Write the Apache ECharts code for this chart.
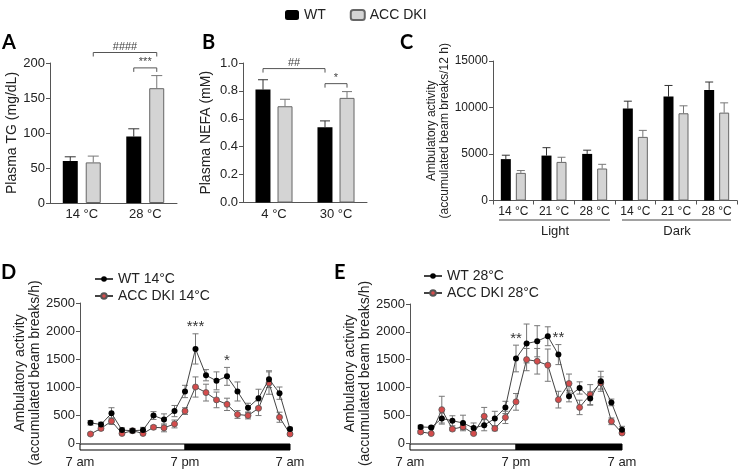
<!DOCTYPE html>
<html>
<head>
<meta charset="utf-8">
<script src="https://cdn.jsdelivr.net/npm/echarts@6/dist/echarts.min.js"></script>
<style>
html, body { margin: 0; background: #fff; }
#chart { width: 738px; height: 469px; }
</style>
</head>
<body>
<div id="chart"></div>
<script>
// panel A - plasma TG
const tgCats = ['14 °C', '28 °C'];
const tgWT = [60, 95];
const tgWTErr = [6, 11];
const tgACC = [58, 164];
const tgACCErr = [9, 18];

// panel B - plasma NEFA
const nefaCats = ['4 °C', '30 °C'];
const nefaWT = [0.81, 0.54];
const nefaWTErr = [0.07, 0.045];
const nefaACC = [0.69, 0.75];
const nefaACCErr = [0.05, 0.045];

// panel C - activity per 12 h
const actCats = ['14 °C', '21 °C', '28 °C', '14 °C', '21 °C', '28 °C'];
const actWT = [4450, 4830, 5010, 9880, 11170, 11890];
const actWTErr = [420, 850, 400, 800, 1200, 850];
const actACC = [2970, 4150, 3440, 6840, 9380, 9450];
const actACCErr = [250, 500, 450, 700, 800, 1050];

// panels D / E - hourly activity
const timeSlots = ['7 am', '', '', '', '', '', '', '', '', '', '7 pm', '', '', '', '', '', '', '', '', '', '7 am'];
const wt14 = [360, 330, 530, 230, 220, 230, 490, 420, 570, 920, 1680, 1210, 1110, 1190, 920, 630, 800, 1140, 890, 250];
const wt14Err = [40, 40, 100, 40, 40, 50, 70, 100, 100, 110, 270, 100, 160, 160, 170, 80, 160, 150, 110, 30];
const acc14 = [160, 260, 390, 170, 220, 170, 280, 270, 340, 570, 1000, 900, 770, 690, 510, 490, 620, 1070, 460, 160];
const acc14Err = [20, 30, 60, 20, 30, 20, 30, 70, 70, 60, 180, 150, 140, 110, 70, 60, 130, 200, 90, 20];
const wt28 = [290, 280, 440, 400, 360, 270, 320, 440, 640, 1520, 1790, 1830, 1920, 1590, 840, 990, 800, 1110, 730, 240];
const wt28Err = [30, 20, 100, 90, 140, 90, 100, 130, 110, 240, 350, 280, 170, 180, 100, 110, 120, 180, 60, 60];
const acc28 = [200, 170, 600, 250, 290, 170, 480, 260, 460, 740, 1500, 1470, 1400, 780, 1070, 640, 870, 1080, 390, 180];
const acc28Err = [30, 20, 240, 30, 50, 20, 160, 40, 110, 150, 200, 230, 290, 150, 170, 130, 180, 110, 60, 20];
const starsDSlots = [11, 14];
const starsDText = ['***', '*'];
const starsESlots = [10, 14];
const starsEText = ['**', '**'];

const FONT = 'Liberation Sans';
const txt = '#222';
const axisCol = '#555';

const chart = echarts.init(document.getElementById('chart'));

function barErr(offset, cap, color) {
  return function (params, api) {
    const base = api.coord([api.value(0), api.value(1)]);
    const top = api.coord([api.value(0), api.value(1) + api.value(2)]);
    const x = base[0] + offset;
    return {
      type: 'group',
      children: [
        { type: 'line', shape: { x1: x, y1: base[1], x2: x, y2: top[1] }, style: { stroke: color, lineWidth: 1 } },
        { type: 'line', shape: { x1: x - cap, y1: top[1], x2: x + cap, y2: top[1] }, style: { stroke: color, lineWidth: 1 } }
      ]
    };
  };
}

function lineErr(color) {
  return function (params, api) {
    const v = api.value(1), e = api.value(2);
    const top = api.coord([api.value(0), v + e]);
    const bot = api.coord([api.value(0), v - e]);
    const x = top[0];
    const st = { stroke: color, lineWidth: 1 };
    return {
      type: 'group',
      children: [
        { type: 'line', shape: { x1: x, y1: top[1], x2: x, y2: bot[1] }, style: st },
        { type: 'line', shape: { x1: x - 3, y1: top[1], x2: x + 3, y2: top[1] }, style: st },
        { type: 'line', shape: { x1: x - 3, y1: bot[1], x2: x + 3, y2: bot[1] }, style: st }
      ]
    };
  };
}

function bracket(off, texts) {
  return function (params, api) {
    const y = api.coord([0, api.value(4)])[1];
    const xa = api.coord([api.value(0), 0])[0] + api.value(1) * off;
    const xb = api.coord([api.value(2), 0])[0] + api.value(3) * off;
    return {
      type: 'group',
      children: [
        { type: 'polyline', shape: { points: [[xa, y + 4], [xa, y], [xb, y], [xb, y + 4]] }, style: { stroke: '#555', fill: null, lineWidth: 1 } },
        { type: 'text', x: (xa + xb) / 2, y: y, style: { text: texts[params.dataIndex], fill: '#444', fontSize: 11, fontFamily: FONT, align: 'center', verticalAlign: 'bottom' } }
      ]
    };
  };
}

function stars(texts) {
  return function (params, api) {
    const p = api.coord([api.value(0), api.value(1)]);
    return { type: 'text', x: p[0], y: p[1] + 1, style: { text: texts[params.dataIndex], fill: '#333', fontSize: 15, fontFamily: FONT, align: 'center', verticalAlign: 'bottom' } };
  };
}

function dayBar(params, api) {
  const a = api.coord([api.value(0), 0]);
  const b = api.coord([api.value(1), 0]);
  return {
    type: 'rect',
    shape: { x: a[0], y: a[1] + 1, width: b[0] - a[0], height: 6 },
    style: { fill: api.value(2) ? '#000' : '#fff', stroke: '#000', lineWidth: 1 }
  };
}

const lbl = { color: txt, fontSize: 13, fontFamily: FONT, margin: 5 };
const lblC = { color: txt, fontSize: 12, fontFamily: FONT, margin: 5 };

function catAxis(grid, data, extra) {
  return Object.assign({
    type: 'category', gridIndex: grid, data: data,
    axisLine: { show: true, lineStyle: { color: axisCol } },
    axisTick: { show: false },
    axisLabel: Object.assign({}, lbl, { interval: 0 })
  }, extra || {});
}

function valAxis(grid, max, interval, name, gap, fmt, size, nameSize) {
  const fs = size || 13;
  const ns = nameSize || 14;
  return {
    type: 'value', gridIndex: grid, min: 0, max: max, interval: interval,
    name: name, nameLocation: 'middle', nameGap: gap, nameRotate: 90,
    nameTextStyle: { color: txt, fontSize: ns, fontFamily: FONT, lineHeight: ns + 1 },
    axisLine: { show: true, lineStyle: { color: axisCol } },
    axisTick: { show: true, length: 4, lineStyle: { color: axisCol } },
    splitLine: { show: false },
    axisLabel: Object.assign({}, lbl, { fontSize: fs, formatter: fmt || ((v) => String(v)) })
  };
}

const idx = (arr) => arr.map((v, i) => [i + 1, v]);
const withErr = (vals, errs) => vals.map((v, i) => [i + 1, v, errs[i]]);
const barWithErr = (vals, errs) => vals.map((v, i) => [i, v, errs[i]]);

const wtBar = { color: '#000' };
const accBar = { color: '#d4d4d4', borderColor: '#666', borderWidth: 1 };
const timeAxisExtra = {
  boundaryGap: false, axisLine: { show: false },
  axisLabel: Object.assign({}, lbl, { margin: 13, interval: 0, formatter: (v, i) => timeSlots[i] })
};

const option = {
  animation: false,
  backgroundColor: '#fff',
  textStyle: { fontFamily: FONT },
  legend: [
    {
      data: ['WT', 'ACC DKI'], left: 280, top: 3, itemWidth: 14, itemHeight: 10, itemGap: 24,
      textStyle: { color: txt, fontSize: 14, fontFamily: FONT }
    },
    {
      data: ['WT 14°C', 'ACC DKI 14°C'], orient: 'vertical', left: 89, top: 267, itemWidth: 18, itemHeight: 7, itemGap: 3,
      textStyle: { color: txt, fontSize: 14, fontFamily: FONT }
    },
    {
      data: ['WT 28°C', 'ACC DKI 28°C'], orient: 'vertical', left: 418, top: 264, itemWidth: 18, itemHeight: 7, itemGap: 3,
      textStyle: { color: txt, fontSize: 14, fontFamily: FONT }
    }
  ],
  grid: [
    { left: 50, top: 63, width: 127, height: 140 },
    { left: 243, top: 63, width: 124, height: 139.5 },
    { left: 493, top: 61, width: 244, height: 139.5 },
    { left: 80, top: 303, width: 210, height: 140 },
    { left: 410, top: 304, width: 212, height: 139 }
  ],
  xAxis: [
    catAxis(0, tgCats),
    catAxis(1, nefaCats),
    catAxis(2, actCats.map((c, i) => String(i)), {
      axisTick: { show: true, length: 4, lineStyle: { color: axisCol } },
      axisLabel: Object.assign({}, lblC, { interval: 0, formatter: (v, i) => actCats[i] })
    }),
    catAxis(3, timeSlots.map((c, i) => String(i)), timeAxisExtra),
    catAxis(4, timeSlots.map((c, i) => String(i)), timeAxisExtra)
  ],
  yAxis: [
    valAxis(0, 200, 50, 'Plasma TG (mg/dL)', 30),
    valAxis(1, 1.0, 0.2, 'Plasma NEFA (mM)', 29, (v) => v.toFixed(1)),
    valAxis(2, 15000, 5000, 'Ambulatory activity\n(accumulated beam breaks/12 h)', 27, null, 12, 12),
    valAxis(3, 2500, 500, 'Ambulatory activity\n(accumulated beam breaks/h)', 34),
    valAxis(4, 2500, 500, 'Ambulatory activity\n(accumulated beam breaks/h)', 30)
  ],
  graphic: [
    { type: 'text', left: 2, top: 33, style: { text: 'A', fontSize: 20, fontWeight: 'bold', fontFamily: 'Lato', fill: '#000' } },
    { type: 'text', left: 202, top: 33, style: { text: 'B', fontSize: 20, fontWeight: 'bold', fontFamily: 'Lato', fill: '#000' } },
    { type: 'text', left: 400, top: 33, style: { text: 'C', fontSize: 20, fontWeight: 'bold', fontFamily: 'Lato', fill: '#000' } },
    { type: 'text', left: 1, top: 263, style: { text: 'D', fontSize: 20, fontWeight: 'bold', fontFamily: 'Lato', fill: '#000' } },
    { type: 'text', left: 334, top: 263, style: { text: 'E', fontSize: 20, fontWeight: 'bold', fontFamily: 'Lato', fill: '#000' } },
    { type: 'line', shape: { x1: 499, y1: 220, x2: 610, y2: 220 }, style: { stroke: '#444', lineWidth: 1 } },
    { type: 'line', shape: { x1: 622, y1: 220, x2: 731, y2: 220 }, style: { stroke: '#444', lineWidth: 1 } },
    { type: 'text', x: 555, y: 231, style: { text: 'Light', fontSize: 13, fontFamily: FONT, fill: txt, align: 'center', verticalAlign: 'middle' } },
    { type: 'text', x: 677, y: 231, style: { text: 'Dark', fontSize: 13, fontFamily: FONT, fill: txt, align: 'center', verticalAlign: 'middle' } }
  ],
  series: [
    // A
    { name: 'WT', type: 'bar', xAxisIndex: 0, yAxisIndex: 0, data: tgWT, barWidth: 15, barGap: '53%', itemStyle: wtBar },
    { name: 'ACC DKI', type: 'bar', xAxisIndex: 0, yAxisIndex: 0, data: tgACC, barWidth: 15, barGap: '53%', itemStyle: accBar },
    { type: 'custom', xAxisIndex: 0, yAxisIndex: 0, data: barWithErr(tgWT, tgWTErr), renderItem: barErr(-11.5, 5.5, '#333') },
    { type: 'custom', xAxisIndex: 0, yAxisIndex: 0, data: barWithErr(tgACC, tgACCErr), renderItem: barErr(11.5, 5.5, '#777') },
    { type: 'custom', xAxisIndex: 0, yAxisIndex: 0, data: [[0, 1, 1, 1, 215], [1, -1, 1, 1, 193]], encode: { x: 0, y: 4 }, renderItem: bracket(11.5, ['####', '***']) },
    // B
    { name: 'WT', type: 'bar', xAxisIndex: 1, yAxisIndex: 1, data: nefaWT, barWidth: 15, barGap: '47%', itemStyle: wtBar },
    { name: 'ACC DKI', type: 'bar', xAxisIndex: 1, yAxisIndex: 1, data: nefaACC, barWidth: 15, barGap: '47%', itemStyle: accBar },
    { type: 'custom', xAxisIndex: 1, yAxisIndex: 1, data: barWithErr(nefaWT, nefaWTErr), renderItem: barErr(-11, 5, '#333') },
    { type: 'custom', xAxisIndex: 1, yAxisIndex: 1, data: barWithErr(nefaACC, nefaACCErr), renderItem: barErr(11, 5, '#777') },
    { type: 'custom', xAxisIndex: 1, yAxisIndex: 1, data: [[0, -1, 1, -1, 0.96], [1, -1, 1, 1, 0.852]], encode: { x: 0, y: 4 }, renderItem: bracket(11, ['##', '*']) },
    // C
    { name: 'WT', type: 'bar', xAxisIndex: 2, yAxisIndex: 2, data: actWT, barWidth: 10, barGap: '50%', itemStyle: wtBar },
    { name: 'ACC DKI', type: 'bar', xAxisIndex: 2, yAxisIndex: 2, data: actACC, barWidth: 10, barGap: '50%', itemStyle: accBar },
    { type: 'custom', xAxisIndex: 2, yAxisIndex: 2, data: barWithErr(actWT, actWTErr), renderItem: barErr(-7.5, 4, '#333') },
    { type: 'custom', xAxisIndex: 2, yAxisIndex: 2, data: barWithErr(actACC, actACCErr), renderItem: barErr(7.5, 4, '#777') },
    // D
    { type: 'custom', xAxisIndex: 3, yAxisIndex: 3, data: [[0, 10, 0], [10, 20, 1]], renderItem: dayBar, silent: true },
    { type: 'custom', xAxisIndex: 3, yAxisIndex: 3, data: withErr(wt14, wt14Err), renderItem: lineErr('#777'), z: 3 },
    { type: 'custom', xAxisIndex: 3, yAxisIndex: 3, data: withErr(acc14, acc14Err), renderItem: lineErr('#777'), z: 3 },
    { name: 'ACC DKI 14°C', type: 'line', xAxisIndex: 3, yAxisIndex: 3, data: idx(acc14), symbol: 'circle', symbolSize: 6, z: 4,
      lineStyle: { color: '#444', width: 1 }, itemStyle: { color: '#d44c4c', borderColor: '#555', borderWidth: 0.8 } },
    { name: 'WT 14°C', type: 'line', xAxisIndex: 3, yAxisIndex: 3, data: idx(wt14), symbol: 'circle', symbolSize: 6, z: 5,
      lineStyle: { color: '#444', width: 1 }, itemStyle: { color: '#000' } },
    { type: 'custom', xAxisIndex: 3, yAxisIndex: 3, data: starsDSlots.map((s) => [s, wt14[s - 1] + wt14Err[s - 1]]), renderItem: stars(starsDText) },
    // E
    { type: 'custom', xAxisIndex: 4, yAxisIndex: 4, data: [[0, 10, 0], [10, 20, 1]], renderItem: dayBar, silent: true },
    { type: 'custom', xAxisIndex: 4, yAxisIndex: 4, data: withErr(wt28, wt28Err), renderItem: lineErr('#777'), z: 3 },
    { type: 'custom', xAxisIndex: 4, yAxisIndex: 4, data: withErr(acc28, acc28Err), renderItem: lineErr('#777'), z: 3 },
    { name: 'ACC DKI 28°C', type: 'line', xAxisIndex: 4, yAxisIndex: 4, data: idx(acc28), symbol: 'circle', symbolSize: 6, z: 4,
      lineStyle: { color: '#444', width: 1 }, itemStyle: { color: '#d44c4c', borderColor: '#555', borderWidth: 0.8 } },
    { name: 'WT 28°C', type: 'line', xAxisIndex: 4, yAxisIndex: 4, data: idx(wt28), symbol: 'circle', symbolSize: 6, z: 5,
      lineStyle: { color: '#444', width: 1 }, itemStyle: { color: '#000' } },
    { type: 'custom', xAxisIndex: 4, yAxisIndex: 4, data: starsESlots.map((s) => [s, wt28[s - 1] + wt28Err[s - 1]]), renderItem: stars(starsEText) }
  ]
};

chart.setOption(option);
</script>
</body>
</html>
